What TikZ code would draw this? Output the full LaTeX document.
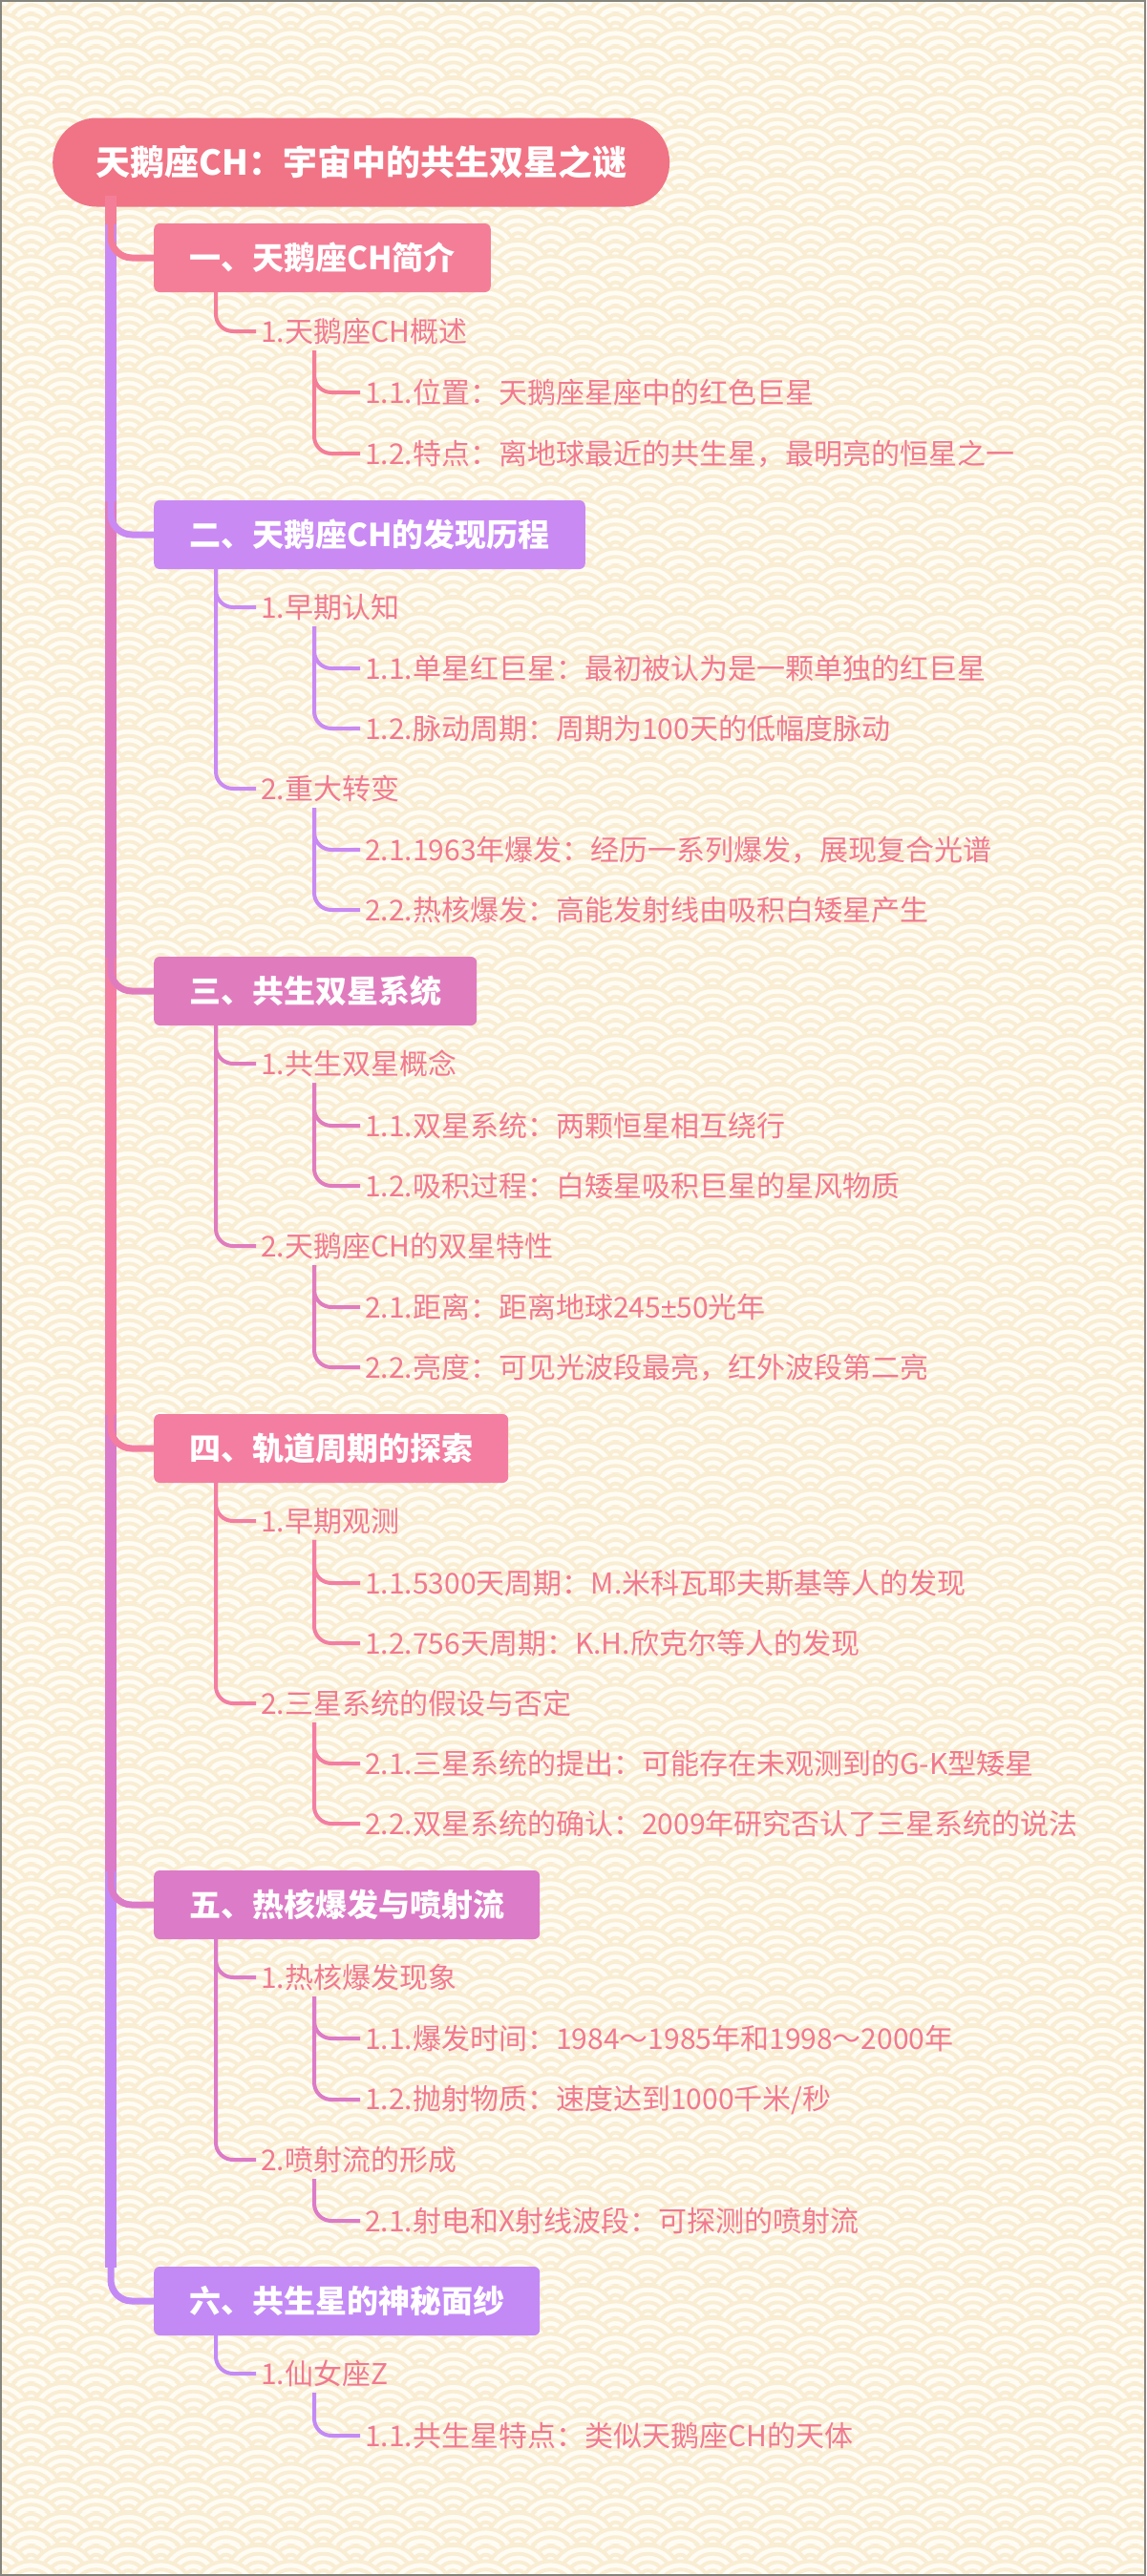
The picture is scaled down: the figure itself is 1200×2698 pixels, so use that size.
\documentclass[tikz,border=0pt]{standalone}
\usepackage{fontspec}
\setmainfont{Noto Sans CJK SC}
\newfontfamily\latinfont{Liberation Sans}
\usetikzlibrary{patterns}

\definecolor{bgcream}{HTML}{F9EDD3}
\definecolor{bgwhite}{HTML}{FFFCF4}
\definecolor{framegray}{HTML}{85857D}
\definecolor{rootpink}{HTML}{F07485}
\definecolor{secA}{HTML}{F47E97}
\definecolor{secB}{HTML}{C98AF3}
\definecolor{secC}{HTML}{E07CBE}
\definecolor{secD}{HTML}{F37EA2}
\definecolor{secE}{HTML}{DC7BC7}
\definecolor{secF}{HTML}{C38AF6}
\definecolor{leafpink}{HTML}{F07A8F}

% one scale of the wave background
\newcommand\wavescale[2]{%
    \pgfpathcircle{\pgfpoint{#1pt}{#2pt}}{34pt}%
    \pgfpathcircle{\pgfpoint{#1pt}{#2pt}}{25pt}%
    \pgfpathcircle{\pgfpoint{#1pt}{#2pt}}{16pt}%
    \pgfpathcircle{\pgfpoint{#1pt}{#2pt}}{7pt}%
    \pgfusepath{fill,stroke}}

\pgfdeclarepatterninherentlycolored{seigaiha}
    {\pgfpoint{0pt}{0pt}}{\pgfpoint{68pt}{34pt}}{\pgfpoint{68pt}{34pt}}
    {
        \pgfsetfillcolor{bgwhite}
        \pgfsetstrokecolor{bgcream}
        \pgfsetlinewidth{4pt}
        \wavescale{0}{68}\wavescale{68}{68}
        \wavescale{-34}{51}\wavescale{34}{51}\wavescale{102}{51}
        \wavescale{0}{34}\wavescale{68}{34}
        \wavescale{-34}{17}\wavescale{34}{17}\wavescale{102}{17}
        \wavescale{0}{0}\wavescale{68}{0}
        \wavescale{-34}{-17}\wavescale{34}{-17}\wavescale{102}{-17}
        \wavescale{0}{-34}\wavescale{68}{-34}
    }

\begin{document}
\begin{tikzpicture}[x=1pt, y=-1pt,
    rootbox/.style={anchor=west, fill=rootpink, rounded corners=46pt, minimum height=93pt,
        inner xsep=45pt, text=white, font=\fontsize{36}{42}\selectfont\bfseries},
    secbox/.style={anchor=west, rounded corners=6pt, minimum height=72pt, inner xsep=37pt,
        text=white, font=\fontsize{33}{40}\selectfont\bfseries},
    subtext/.style={anchor=west, inner xsep=5pt, inner ysep=6pt, text=leafpink,
        font=\fontsize{30}{36}\selectfont},
    trunk/.style={line width=12pt},
    branch/.style={line width=7pt, rounded corners=22pt},
    twig/.style={line width=4pt, rounded corners=18pt}]

    % Background
    \useasboundingbox (0,0) rectangle (1200,2698);
    \fill[bgcream] (0,0) rectangle (1200,2698);
    \fill[pattern=seigaiha] (0,0) rectangle (1200,2698);
    \draw[framegray, line width=2pt] (1,1) rectangle (1199,2697);

    % Draw nodes
    \node[rootbox] (root) at (55,170) {天鹅座CH：宇宙中的共生双星之谜};

    \node[secbox, fill=secA] (s1) at (161,270) {一、天鹅座CH简介};
    \node[subtext] (s1a) at (268,347) {1.天鹅座CH概述};
    \node[subtext] (s1a1) at (377,411) {1.1.位置：天鹅座星座中的红色巨星};
    \node[subtext] (s1a2) at (377,475) {1.2.特点：离地球最近的共生星，最明亮的恒星之一};

    \node[secbox, fill=secB] (s2) at (161,560) {二、天鹅座CH的发现历程};
    \node[subtext] (s2a) at (268,636) {1.早期认知};
    \node[subtext] (s2a1) at (377,700) {1.1.单星红巨星：最初被认为是一颗单独的红巨星};
    \node[subtext] (s2a2) at (377,763) {1.2.脉动周期：周期为100天的低幅度脉动};
    \node[subtext] (s2b) at (268,826) {2.重大转变};
    \node[subtext] (s2b1) at (377,890) {2.1.1963年爆发：经历一系列爆发，展现复合光谱};
    \node[subtext] (s2b2) at (377,953) {2.2.热核爆发：高能发射线由吸积白矮星产生};

    \node[secbox, fill=secC] (s3) at (161,1038) {三、共生双星系统};
    \node[subtext] (s3a) at (268,1114) {1.共生双星概念};
    \node[subtext] (s3a1) at (377,1179) {1.1.双星系统：两颗恒星相互绕行};
    \node[subtext] (s3a2) at (377,1242) {1.2.吸积过程：白矮星吸积巨星的星风物质};
    \node[subtext] (s3b) at (268,1305) {2.天鹅座CH的双星特性};
    \node[subtext] (s3b1) at (377,1369) {2.1.距离：距离地球245{\latinfont ±}50光年};
    \node[subtext] (s3b2) at (377,1432) {2.2.亮度：可见光波段最亮，红外波段第二亮};

    \node[secbox, fill=secD] (s4) at (161,1517) {四、轨道周期的探索};
    \node[subtext] (s4a) at (268,1593) {1.早期观测};
    \node[subtext] (s4a1) at (377,1658) {1.1.5300天周期：M.米科瓦耶夫斯基等人的发现};
    \node[subtext] (s4a2) at (377,1721) {1.2.756天周期：K.H.欣克尔等人的发现};
    \node[subtext] (s4b) at (268,1784) {2.三星系统的假设与否定};
    \node[subtext] (s4b1) at (377,1847) {2.1.三星系统的提出：可能存在未观测到的G-K型矮星};
    \node[subtext] (s4b2) at (377,1910) {2.2.双星系统的确认：2009年研究否认了三星系统的说法};

    \node[secbox, fill=secE] (s5) at (161,1995) {五、热核爆发与喷射流};
    \node[subtext] (s5a) at (268,2071) {1.热核爆发现象};
    \node[subtext] (s5a1) at (377,2135) {1.1.爆发时间：1984～1985年和1998～2000年};
    \node[subtext] (s5a2) at (377,2199) {1.2.抛射物质：速度达到1000千米/秒};
    \node[subtext] (s5b) at (268,2262) {2.喷射流的形成};
    \node[subtext] (s5b1) at (377,2326) {2.1.射电和X射线波段：可探测的喷射流};

    \node[secbox, fill=secF] (s6) at (161,2410) {六、共生星的神秘面纱};
    \node[subtext] (s6a) at (268,2486) {1.仙女座Z};
    \node[subtext] (s6a1) at (377,2551) {1.1.共生星特点：类似天鹅座CH的天体};

    % Trunk points
    \coordinate (t0) at (116,205);
    \coordinate (t1) at (116,235);
    \coordinate (t2) at (116,525);
    \coordinate (t3) at (116,1003);
    \coordinate (t4) at (116,1482);
    \coordinate (t5) at (116,1960);
    \coordinate (t6) at (116,2375);

    % Draw connections
    \draw[trunk, secA] (t0) -- (t1);
    \draw[trunk, secB] (t1) -- (t2);
    \draw[trunk, secC] (t2) -- (t3);
    \draw[trunk, secD] (t3) -- (t4);
    \draw[trunk, secE] (t4) -- (t5);
    \draw[trunk, secF] (t5) -- (t6);

    \draw[branch, secA] (t1) |- (s1.west);
    \draw[branch, secB] (t2) |- (s2.west);
    \draw[branch, secC] (t3) |- (s3.west);
    \draw[branch, secD] (t4) |- (s4.west);
    \draw[branch, secE] (t5) |- (s5.west);
    \draw[branch, secF] (t6) |- (s6.west);

    \draw[twig, secA] ([xshift=65pt]s1.south west) |- (s1a.west);
    \draw[twig, secA] ([xshift=61pt]s1a.south west) |- (s1a1.west);
    \draw[twig, secA] ([xshift=61pt]s1a.south west) |- (s1a2.west);

    \draw[twig, secB] ([xshift=65pt]s2.south west) |- (s2a.west);
    \draw[twig, secB] ([xshift=65pt]s2.south west) |- (s2b.west);
    \draw[twig, secB] ([xshift=61pt]s2a.south west) |- (s2a1.west);
    \draw[twig, secB] ([xshift=61pt]s2a.south west) |- (s2a2.west);
    \draw[twig, secB] ([xshift=61pt]s2b.south west) |- (s2b1.west);
    \draw[twig, secB] ([xshift=61pt]s2b.south west) |- (s2b2.west);

    \draw[twig, secC] ([xshift=65pt]s3.south west) |- (s3a.west);
    \draw[twig, secC] ([xshift=65pt]s3.south west) |- (s3b.west);
    \draw[twig, secC] ([xshift=61pt]s3a.south west) |- (s3a1.west);
    \draw[twig, secC] ([xshift=61pt]s3a.south west) |- (s3a2.west);
    \draw[twig, secC] ([xshift=61pt]s3b.south west) |- (s3b1.west);
    \draw[twig, secC] ([xshift=61pt]s3b.south west) |- (s3b2.west);

    \draw[twig, secD] ([xshift=65pt]s4.south west) |- (s4a.west);
    \draw[twig, secD] ([xshift=65pt]s4.south west) |- (s4b.west);
    \draw[twig, secD] ([xshift=61pt]s4a.south west) |- (s4a1.west);
    \draw[twig, secD] ([xshift=61pt]s4a.south west) |- (s4a2.west);
    \draw[twig, secD] ([xshift=61pt]s4b.south west) |- (s4b1.west);
    \draw[twig, secD] ([xshift=61pt]s4b.south west) |- (s4b2.west);

    \draw[twig, secE] ([xshift=65pt]s5.south west) |- (s5a.west);
    \draw[twig, secE] ([xshift=65pt]s5.south west) |- (s5b.west);
    \draw[twig, secE] ([xshift=61pt]s5a.south west) |- (s5a1.west);
    \draw[twig, secE] ([xshift=61pt]s5a.south west) |- (s5a2.west);
    \draw[twig, secE] ([xshift=61pt]s5b.south west) |- (s5b1.west);

    \draw[twig, secF] ([xshift=65pt]s6.south west) |- (s6a.west);
    \draw[twig, secF] ([xshift=61pt]s6a.south west) |- (s6a1.west);
\end{tikzpicture}
\end{document}
